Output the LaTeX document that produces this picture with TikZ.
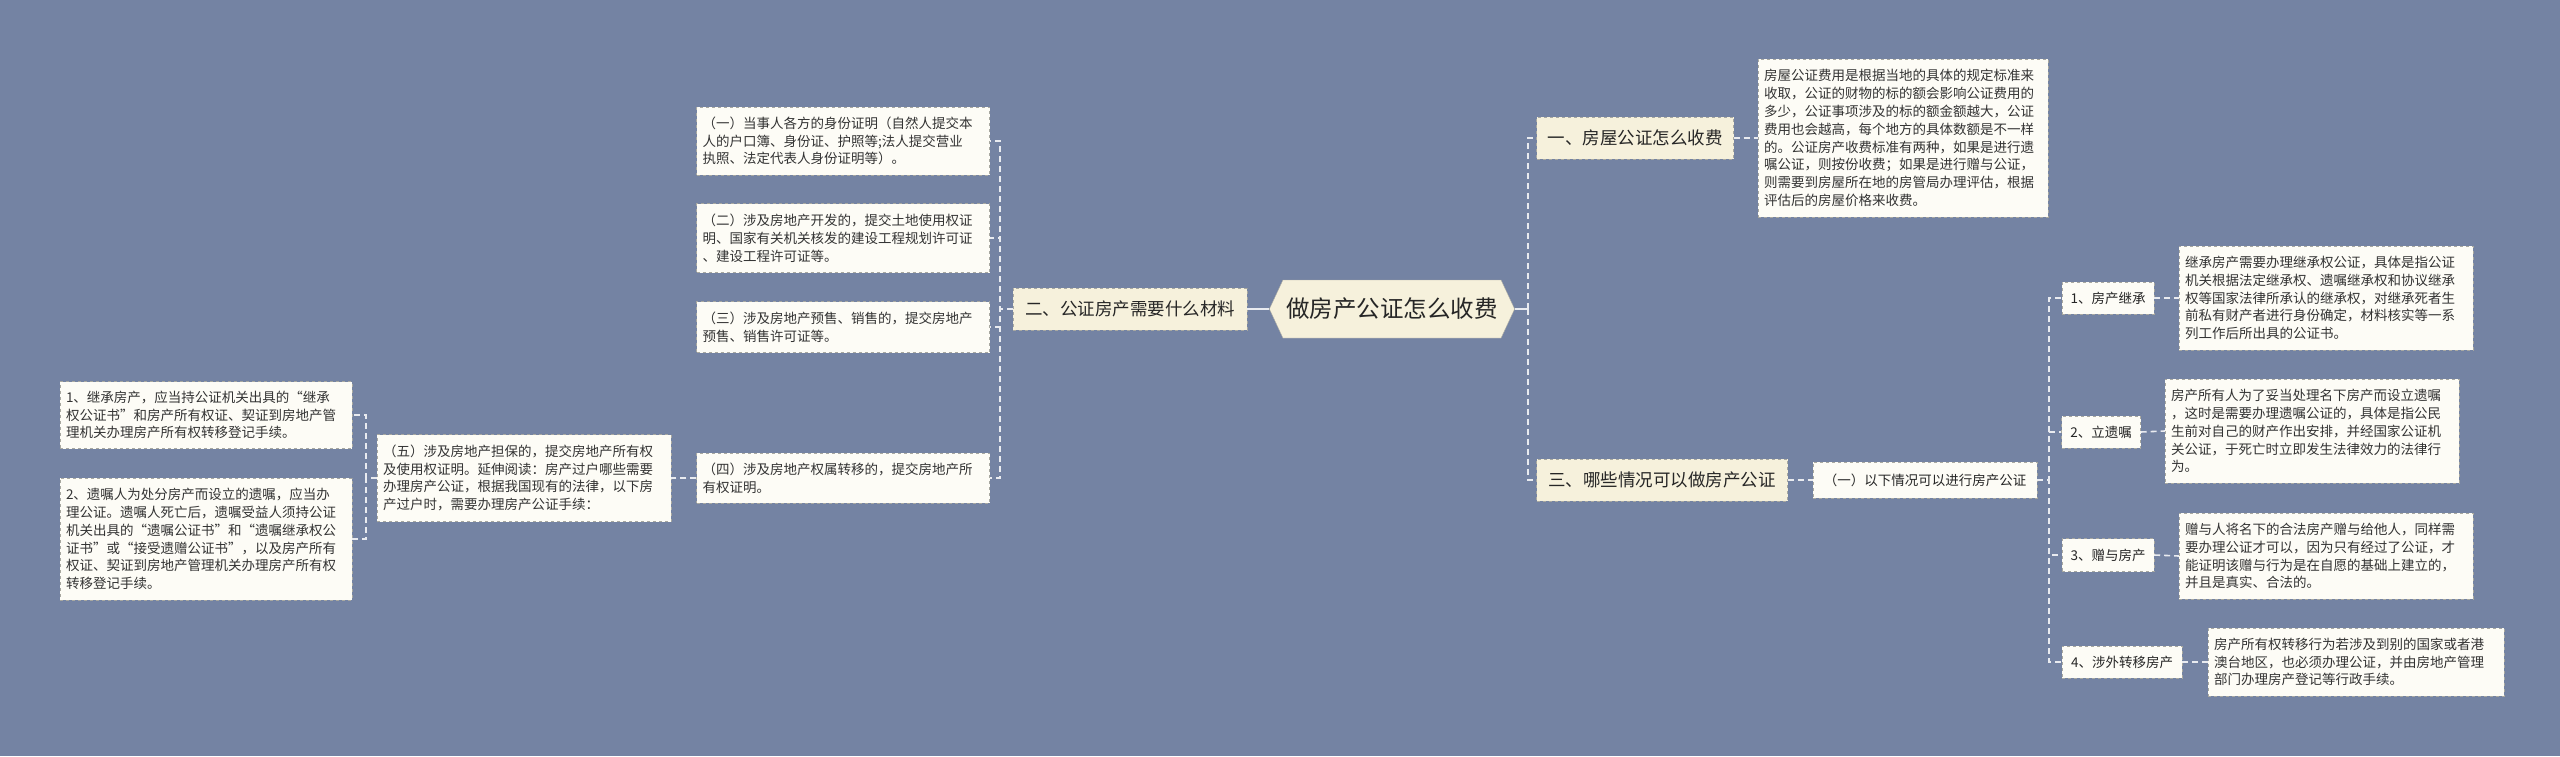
\documentclass[tikz,border=0pt]{standalone}
\usepackage{fontspec}
\setmainfont{Noto Sans CJK SC}
\usetikzlibrary{shapes.symbols}
\definecolor{bg}{HTML}{7483A3}
\definecolor{leaffill}{HTML}{FDFCF6}
\definecolor{midfill}{HTML}{F6F1DC}
\definecolor{edgec}{HTML}{E9EBF0}
\definecolor{bord}{HTML}{A8A8A0}
\tikzset{
 leaf/.style={draw=bord,dashed,fill=leaffill,align=left,inner xsep=6pt,inner ysep=3pt,font=\fontsize{13.5}{17.8}\selectfont,text=black!80},
 mid/.style={draw=bord,dashed,fill=midfill,align=center,font=\fontsize{17.5}{20}\selectfont,text=black!85},
 small/.style={draw=bord,dashed,fill=leaffill,align=center,font=\fontsize{13.5}{17}\selectfont,text=black!85},
 conn/.style={draw=edgec,line width=1.6pt,dashed,dash pattern=on 6pt off 4pt},
 solidconn/.style={draw=edgec,line width=2.5pt}
}
\begin{document}
\begin{tikzpicture}[x=1pt,y=-1pt]
\fill[bg] (0,0) rectangle (2560,756);
\useasboundingbox (0,0) rectangle (2560,756);
% center
\node[signal,signal to=west and east,signal pointer angle=130,fill=midfill,draw=bord,minimum width=240pt,minimum height=58pt,font=\fontsize{23.5}{26}\selectfont,text=black!85] (c) at (1392,309) {做房产公证怎么收费};
\node[mid,minimum width=234pt,minimum height=42pt] (n2) at (1130,309) {二、公证房产需要什么材料};
\node[leaf,text width=281pt,minimum height=68pt] (a1) at (843,141) {（一）当事人各方的身份证明（自然人提交本\\人的户口簿、身份证、护照等;法人提交营业\\执照、法定代表人身份证明等）。};
\node[leaf,text width=281pt,minimum height=69pt] (a2) at (843,238) {（二）涉及房地产开发的，提交土地使用权证\\明、国家有关机关核发的建设工程规划许可证\\、建设工程许可证等。};
\node[leaf,text width=281pt,minimum height=51pt] (a3) at (843,327) {（三）涉及房地产预售、销售的，提交房地产\\预售、销售许可证等。};
\node[leaf,text width=281pt,minimum height=50pt] (a4) at (843,478) {（四）涉及房地产权属转移的，提交房地产所\\有权证明。};
\node[leaf,text width=282pt,minimum height=87pt] (a5) at (524,478) {（五）涉及房地产担保的，提交房地产所有权\\及使用权证明。延伸阅读：房产过户哪些需要\\办理房产公证，根据我国现有的法律，以下房\\产过户时，需要办理房产公证手续：};
\node[leaf,text width=280pt,minimum height=67pt] (b1) at (206,415) {1、继承房产，应当持公证机关出具的“继承\\权公证书”和房产所有权证、契证到房地产管\\理机关办理房产所有权转移登记手续。};
\node[leaf,text width=280pt,minimum height=122pt] (b2) at (206,539) {2、遗嘱人为处分房产而设立的遗嘱，应当办\\理公证。遗嘱人死亡后，遗嘱受益人须持公证\\机关出具的“遗嘱公证书”和“遗嘱继承权公\\证书”或“接受遗赠公证书”，以及房产所有\\权证、契证到房地产管理机关办理房产所有权\\转移登记手续。};
% right
\node[mid,minimum width=197pt,minimum height=42pt] (r1) at (1635,138) {一、房屋公证怎么收费};
\node[leaf,text width=278pt,minimum height=158pt] (rd) at (1903,138) {房屋公证费用是根据当地的具体的规定标准来\\收取，公证的财物的标的额会影响公证费用的\\多少，公证事项涉及的标的额金额越大，公证\\费用也会越高，每个地方的具体数额是不一样\\的。公证房产收费标准有两种，如果是进行遗\\嘱公证，则按份收费；如果是进行赠与公证，\\则需要到房屋所在地的房管局办理评估，根据\\评估后的房屋价格来收费。};
\node[mid,minimum width=251pt,minimum height=42pt] (r3) at (1662,480) {三、哪些情况可以做房产公证};
\node[small,minimum width=224pt,minimum height=36pt] (rs) at (1925,480) {（一）以下情况可以进行房产公证};
\node[small,minimum width=92pt,minimum height=32pt] (k1) at (2108,298) {1、房产继承};
\node[small,minimum width=79pt,minimum height=32pt] (k2) at (2101,432) {2、立遗嘱};
\node[small,minimum width=92pt,minimum height=33pt] (k3) at (2108,555) {3、赠与房产};
\node[small,minimum width=120pt,minimum height=32pt] (k4) at (2122,662) {4、涉外转移房产};
\node[leaf,text width=282pt,minimum height=104pt] (d1) at (2326,298) {继承房产需要办理继承权公证，具体是指公证\\机关根据法定继承权、遗嘱继承权和协议继承\\权等国家法律所承认的继承权，对继承死者生\\前私有财产者进行身份确定，材料核实等一系\\列工作后所出具的公证书。};
\node[leaf,text width=282pt,minimum height=104pt] (d2) at (2312,431) {房产所有人为了妥当处理名下房产而设立遗嘱\\，这时是需要办理遗嘱公证的，具体是指公民\\生前对自己的财产作出安排，并经国家公证机\\关公证，于死亡时立即发生法律效力的法律行\\为。};
\node[leaf,text width=282pt,minimum height=86pt] (d3) at (2326,556) {赠与人将名下的合法房产赠与给他人，同样需\\要办理公证才可以，因为只有经过了公证，才\\能证明该赠与行为是在自愿的基础上建立的，\\并且是真实、合法的。};
\node[leaf,text width=284pt,minimum height=68pt] (d4) at (2356,662) {房产所有权转移行为若涉及到别的国家或者港\\澳台地区，也必须办理公证，并由房地产管理\\部门办理房产登记等行政手续。};
% connectors
\draw[solidconn] (c.west) -- (n2.east);
\draw[solidconn] (c.east) -- ++(13,0);
\foreach \t in {a1,a2,a3,a4} \draw[conn] (n2.west) -- ++(-13,0) |- (\t.east);
\draw[conn] (a4.west) -- (a5.east);
\foreach \t in {b1,b2} \draw[conn] (a5.west) -- ++(-11,0) |- (\t.east);
\foreach \t in {r1,r3} \draw[conn] (c.east) ++(13,0) |- (\t.west);
\draw[conn] (r1.east) -- (rd.west);
\draw[conn] (r3.east) -- (rs.west);
\foreach \t in {k1,k2,k3,k4} \draw[conn] (rs.east) -- ++(12,0) |- (\t.west);
\draw[conn] (k1.east) -- (d1.west);
\draw[conn] (k2.east) -- (d2.west);
\draw[conn] (k3.east) -- (d3.west);
\draw[conn] (k4.east) -- (d4.west);
\end{tikzpicture}
\end{document}
